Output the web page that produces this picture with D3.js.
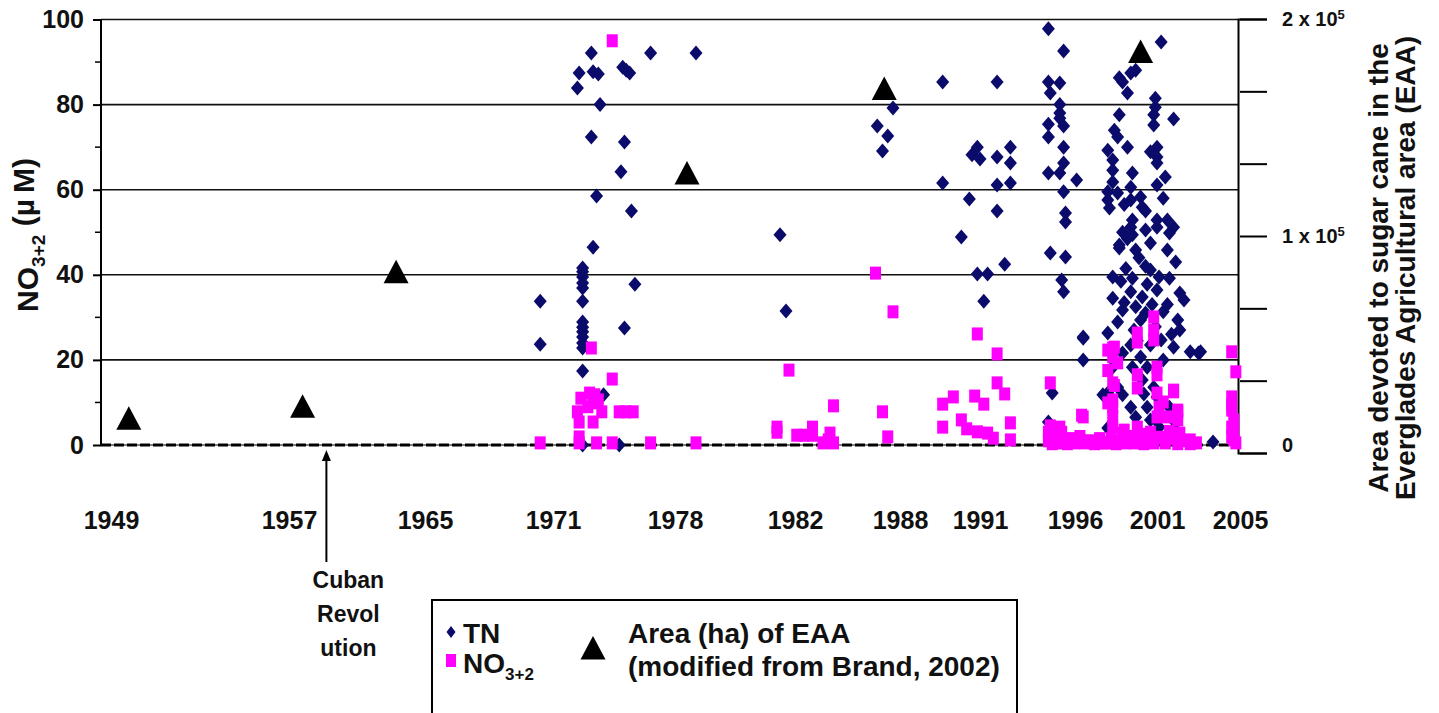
<!DOCTYPE html>
<html lang="en">
<head>
  <meta charset="UTF-8">
  <title>TN, NO3+2 and EAA sugar cane area</title>
  <style>
    body {
      margin: 0;
      background-color: white;
    }

    svg {
      display: block;
      font-family: "Liberation Sans", Arial, sans-serif;
      font-weight: bold;
    }

    .grid line {
      stroke: #111;
      stroke-width: 1.6;
    }

    .axis path,
    .axis line {
      stroke: #000;
      stroke-width: 2;
    }
  </style>
</head>
<body>
  <div id="chart"></div>

  <script src="https://d3js.org/d3.v7.min.js"></script>
  <script>
    // x axis labels (unevenly spaced in the original figure)
    const tickYears = [1949, 1957, 1965, 1971, 1978, 1982, 1988, 1991, 1996, 2001, 2005];
    const leftTicks = [0, 20, 40, 60, 80, 100];
    const leftMinorTicks = [10, 30, 50, 70, 90];
    const areaTicks = [0, 33333, 66667, 100000, 133333, 166667, 200000];

    // Area (ha) of EAA, modified from Brand 2002
    const eaaYears = [1949.8, 1957.8, 1963.3, 1978.4, 1987.1, 2000.0];
    const eaaArea = [16000, 21500, 83500, 129000, 168000, 185000];

    const revolutionYear = 1959.2;

    // TN (uM): [year, value]
    const tnPoints = [
      [1970.4, 33.8], [1970.4, 23.7],
      [1972.7, 41.6], [1972.7, 40.7], [1972.7, 39.5], [1972.7, 38.1], [1972.7, 36.9], [1972.7, 33.8],
      [1972.7, 28.9], [1972.7, 27.7], [1972.7, 26.6], [1972.7, 25.4], [1972.7, 24.0], [1972.7, 22.8],
      [1972.7, 17.4], [1972.7, 0],
      [1973.3, 46.5], [1972.4, 83.9], [1972.5, 87.4], [1973.2, 92.1], [1973.3, 87.7], [1973.6, 87.2],
      [1973.7, 80.0], [1973.2, 72.4], [1973.5, 58.5], [1974.9, 64.2], [1975.5, 55.0], [1975.1, 71.2],
      [1975.2, 88.1], [1975.4, 87.4], [1975.0, 88.8], [1976.6, 92.1], [1978.7, 92.1], [1975.7, 37.8],
      [1975.1, 27.5], [1973.9, 11.8], [1974.8, 0],
      [1981.5, 49.4], [1981.7, 31.5],
      [1987.6, 79.2], [1986.7, 75.0], [1987.3, 72.6], [1987.0, 69.1],
      [1989.6, 85.3], [1989.6, 61.6], [1991.9, 85.3], [1990.9, 70.0], [1990.7, 68.2], [1991.0, 67.2],
      [1990.6, 57.8], [1991.9, 67.7], [1992.6, 70.0], [1992.6, 66.3], [1991.9, 61.1], [1992.6, 61.6],
      [1991.9, 55.0], [1990.3, 48.9], [1992.3, 42.5], [1990.9, 40.2], [1991.4, 40.2], [1991.2, 33.8],
      [1994.6, 97.8], [1995.4, 92.6], [1994.6, 85.3], [1995.2, 85.1], [1994.7, 82.7], [1995.2, 80.0],
      [1995.2, 78.0], [1995.2, 76.8], [1994.6, 75.4], [1995.4, 75.0], [1994.6, 72.4], [1995.4, 70.0],
      [1995.4, 66.3], [1994.6, 63.9], [1995.2, 63.9], [1996.1, 62.3], [1995.4, 59.5], [1995.5, 54.5],
      [1995.5, 52.4], [1994.7, 45.1], [1995.5, 44.2], [1995.3, 38.8], [1995.4, 36.0], [1996.5, 25.4],
      [1996.5, 20.0], [1994.8, 12.2], [1994.6, 5.4],
      [2001.2, 94.7], [1998.7, 86.3], [1998.9, 85.3], [1999.4, 87.4], [1999.7, 88.1], [1999.2, 82.7],
      [2000.9, 81.5], [2000.9, 79.4], [1998.7, 77.6], [2000.8, 77.6], [2001.8, 76.6], [2000.8, 75.2],
      [1998.4, 74.0], [1998.6, 72.4], [1999.2, 70.0], [1998.0, 69.3], [2001.0, 70.0], [2000.6, 68.9],
      [2001.0, 67.7], [1998.3, 67.0], [2001.0, 66.3], [1998.3, 64.6], [1999.5, 63.9], [1998.3, 61.8],
      [2001.0, 61.1], [1998.0, 59.5], [1999.4, 60.6], [1998.6, 59.2], [1998.0, 57.6], [1999.4, 57.6],
      [2000.0, 58.3], [1998.1, 55.7], [2000.1, 55.9], [1999.5, 52.9], [2001.0, 52.9], [2001.5, 52.9],
      [2001.8, 51.2], [1999.4, 51.2], [2001.0, 51.2], [2001.6, 49.8], [1998.7, 46.3], [1999.7, 45.8],
      [2001.5, 45.8], [2001.9, 43.0], [2000.6, 41.1], [1999.5, 39.2], [2001.1, 39.5], [2001.6, 39.2],
      [1998.3, 34.5], [1999.4, 36.0], [2000.1, 34.8], [2001.0, 36.4], [2002.1, 35.7], [2002.3, 34.1],
      [1998.9, 31.7], [2000.0, 29.4], [1998.6, 28.9], [2001.3, 31.3], [2002.0, 29.4], [2002.1, 27.0],
      [1998.0, 26.3], [1996.5, 25.1], [2001.2, 24.7], [2002.6, 21.9], [2003.0, 21.6], [1999.4, 23.5],
      [1998.9, 21.6], [2000.0, 20.7], [1998.3, 18.3], [1999.5, 18.3], [2000.4, 18.3], [2001.3, 20.0],
      [2000.1, 15.3], [1998.6, 13.6], [2000.8, 13.6], [1998.0, 12.2], [1998.9, 11.8], [1999.4, 8.9],
      [2001.0, 11.3], [2000.4, 8.9], [2001.6, 8.9], [2000.6, 5.9], [1998.0, 4.0], [2001.1, 4.2],
      [2001.9, 5.2], [2003.7, 0.7], [2000.8, 2.8], [1997.7, 11.8], [1998.7, 47.0], [1999.5, 49.4],
      [2003.1, 21.9], [1998.9, 50.0], [1999.2, 48.5], [2000.3, 50.5], [2000.6, 47.5], [1999.9, 44.0],
      [2000.3, 42.0], [1999.1, 41.5], [1998.8, 38.5], [2000.4, 37.8], [2000.7, 33.0], [1999.7, 32.5],
      [1999.0, 33.5], [2000.3, 31.0], [2001.5, 33.0], [2000.9, 27.8], [1999.6, 27.0], [2001.7, 26.0],
      [1999.8, 24.5], [2000.6, 23.5], [2001.8, 23.0], [2000.2, 12.0], [1999.7, 6.5], [2000.9, 6.0],
      [1998.3, 39.5], [2001.3, 58.0], [2000.3, 55.0], [1999.0, 56.5], [2001.4, 63.0]
    ];

    // NO3+2 (uM): [year, value]
    const no3Points = [
      [1970.4, 0.5],
      [1974.4, 95.0], [1973.2, 22.8], [1974.4, 15.5], [1973.1, 12.2], [1973.4, 11.8], [1973.6, 10.6],
      [1973.3, 9.9], [1973.8, 7.8], [1972.4, 7.8], [1972.5, 5.4], [1973.3, 5.4], [1974.8, 7.8],
      [1975.2, 7.8], [1975.6, 7.8], [1972.5, 1.9], [1972.5, 0.5], [1973.5, 0.5], [1974.4, 0.5],
      [1976.6, 0.5], [1978.7, 0.5], [1972.6, 11.0], [1973.0, 9.0],
      [1981.8, 17.6], [1981.4, 4.2], [1981.4, 3.0], [1982.1, 2.3], [1982.5, 2.3], [1983.0, 4.2],
      [1983.0, 2.3], [1984.0, 2.8], [1983.6, 0.5], [1984.2, 0.5], [1984.2, 9.2], [1983.9, 1.2],
      [1986.6, 40.4], [1987.6, 31.3], [1987.0, 7.8], [1987.3, 1.9],
      [1990.9, 26.1], [1991.9, 21.4], [1991.9, 14.6], [1992.3, 12.0], [1990.8, 11.5], [1991.2, 9.6],
      [1990.3, 5.9], [1990.5, 3.8], [1990.9, 3.1], [1991.4, 2.8], [1991.7, 1.6], [1992.6, 5.2],
      [1992.6, 1.2], [1989.6, 9.6], [1990.0, 11.3], [1989.6, 4.2],
      [1994.7, 14.6], [1996.4, 7.0], [1995.2, 4.2], [1994.6, 3.0], [1994.6, 1.0], [1994.8, 0.3],
      [1995.0, 2.0], [1995.1, 0.5], [1995.3, 3.0], [1995.4, 1.0], [1995.6, 0.3], [1995.8, 1.5],
      [1996.0, 0.5], [1996.3, 2.0], [1996.6, 0.5], [1996.9, 1.0], [1997.2, 0.3], [1997.5, 1.5],
      [1997.7, 0.5], [1994.7, 4.5], [1995.2, 2.5],
      [2000.8, 30.1], [2000.8, 27.0], [2000.8, 24.7], [1999.8, 26.3], [1999.8, 24.2], [1998.3, 22.8],
      [1998.3, 20.7], [1998.6, 19.3], [1999.8, 16.5], [2001.0, 18.3], [2001.0, 16.5], [1998.3, 14.6],
      [1999.8, 13.4], [2001.8, 12.9], [2001.0, 12.2], [1998.3, 10.6], [2001.3, 10.1], [2001.1, 8.9],
      [2002.0, 8.2], [1998.3, 8.9], [1998.3, 6.6], [1996.5, 6.6], [1998.3, 4.2], [2001.0, 6.6],
      [2001.5, 6.6], [2002.0, 5.9], [1998.9, 2.8], [1999.8, 4.2], [2002.1, 2.8], [2002.6, 1.2],
      [1998.0, 22.3], [1998.4, 23.0], [1998.0, 17.5], [1998.4, 14.0], [1998.0, 9.9], [2001.8, 12.5],
      [2002.0, 7.8],
      [1997.9, 0.5], [1998.2, 1.5], [1998.5, 0.3], [1998.8, 1.0], [1999.1, 0.5], [1999.3, 2.0],
      [1999.6, 0.5], [1999.9, 1.5], [2000.2, 0.3], [2000.5, 1.2], [2000.8, 0.5], [2001.1, 1.8],
      [2001.4, 0.5], [2001.7, 1.5], [2002.0, 0.3], [2002.3, 1.0], [2002.6, 0.3], [2002.9, 0.5],
      [1999.0, 3.5], [2000.0, 2.5], [2000.6, 3.0], [2001.6, 3.2],
      [2004.6, 21.9], [2004.8, 17.2], [2004.6, 11.3], [2004.6, 9.4], [2004.6, 8.2], [2004.7, 5.9],
      [2004.6, 4.2], [2004.7, 3.5], [2004.6, 1.9], [2004.7, 1.2], [2004.8, 0.5]
    ];

    const width = 1439;
    const height = 713;
    const plotLeft = 101;
    const plotRight = 1238;
    const fontFamily = '"Liberation Sans", Arial, sans-serif';

    const svg = d3.select('#chart')
      .append('svg')
      .attr('width', width)
      .attr('height', height);

    // piecewise scale, one segment between each pair of labelled years
    const x = d3.scaleLinear()
      .domain(tickYears)
      .range([111, 289, 425, 553, 675, 795, 900, 980, 1075, 1157, 1240]);

    const y = d3.scaleLinear().domain([0, 100]).range([445, 19.5]);
    const yArea = d3.scaleLinear().domain([0, 200000]).range([453, 19]);

    // gridlines
    svg.append('g')
      .attr('class', 'grid')
      .selectAll('line')
      .data(leftTicks.filter(d => d > 0))
      .enter()
      .append('line')
      .attr('x1', plotLeft)
      .attr('x2', plotRight)
      .attr('y1', d => y(d))
      .attr('y2', d => y(d));

    // dashed zero line
    svg.append('line')
      .attr('x1', plotLeft).attr('x2', plotRight)
      .attr('y1', y(0)).attr('y2', y(0))
      .attr('stroke', '#000').attr('stroke-width', 1.2);
    svg.append('line')
      .attr('x1', plotLeft).attr('x2', plotRight)
      .attr('y1', y(0)).attr('y2', y(0))
      .attr('stroke', '#000').attr('stroke-width', 3)
      .attr('stroke-dasharray', '10,3');

    // left axis
    const yAxis = d3.axisLeft(y)
      .tickValues(leftTicks)
      .tickSize(8)
      .tickPadding(9)
      .tickFormat(d3.format('d'));

    svg.append('g')
      .attr('class', 'axis')
      .attr('transform', `translate(${plotLeft},0)`)
      .call(yAxis)
      .call(g => g.select('.domain').attr('d', `M0,${y(100)}V${y(0)}`))
      .selectAll('text')
      .attr('font-size', 25)
      .attr('font-family', fontFamily)
      .attr('font-weight', 'bold')
      .attr('fill', '#111');

    svg.append('g')
      .selectAll('line')
      .data(leftMinorTicks)
      .enter()
      .append('line')
      .attr('x1', plotLeft - 6).attr('x2', plotLeft)
      .attr('y1', d => y(d)).attr('y2', d => y(d))
      .attr('stroke', '#000').attr('stroke-width', 1.5);

    // right axis (area)
    const areaAxis = d3.axisRight(yArea)
      .tickValues(areaTicks)
      .tickSize(29)
      .tickPadding(15);

    const rightG = svg.append('g')
      .attr('class', 'axis')
      .attr('transform', `translate(${plotRight},0)`)
      .call(areaAxis);

    rightG.selectAll('.tick line').attr('x1', 2);

    rightG.selectAll('text')
      .attr('font-size', 20)
      .attr('font-family', fontFamily)
      .attr('font-weight', 'bold')
      .attr('fill', '#111')
      .each(function(d) {
        const t = d3.select(this).text(null);
        if (d === 0) {
          t.attr('dy', '-0.1em').text('0');
        } else if (d === 100000 || d === 200000) {
          t.append('tspan').text(`${d / 100000} x 10`);
          t.append('tspan').attr('dy', '-0.5em').attr('font-size', 13).text('5');
        }
      });

    // x axis labels
    const xAxis = d3.axisBottom(x)
      .tickValues(tickYears)
      .tickSize(0)
      .tickPadding(0)
      .tickFormat(d3.format('d'));

    svg.append('g')
      .attr('transform', 'translate(0,511)')
      .call(xAxis)
      .call(g => g.select('.domain').remove())
      .selectAll('text')
      .attr('font-size', 25)
      .attr('font-family', fontFamily)
      .attr('font-weight', 'bold')
      .attr('fill', '#111');

    // axis titles
    const yTitle = svg.append('text')
      .attr('transform', `translate(38,235) rotate(-90)`)
      .attr('text-anchor', 'middle')
      .attr('font-size', 30)
      .attr('fill', '#111');
    yTitle.append('tspan').text('NO');
    yTitle.append('tspan').attr('font-size', 19).attr('dy', '0.35em').text('3+2');
    yTitle.append('tspan').attr('dy', '-0.35em').text(' (\u00b5\u2009M)');

    const rightTitle = svg.append('g')
      .attr('transform', 'translate(1388,268) rotate(-90)')
      .attr('font-size', 28)
      .attr('text-anchor', 'middle')
      .attr('fill', '#111');
    rightTitle.append('text').attr('y', 0).text('Area devoted to sugar cane in the');
    rightTitle.append('text').attr('y', 27).text('Everglades Agricultural area (EAA)');

    // data
    const diamond = 'M0,-7.5L6.5,0L0,7.5L-6.5,0Z';
    const triangle = 'M0,-12L12.5,11.5L-12.5,11.5Z';

    svg.append('g')
      .selectAll('path')
      .data(tnPoints)
      .enter()
      .append('path')
      .attr('d', diamond)
      .attr('transform', d => `translate(${x(d[0])},${y(d[1])})`)
      .attr('fill', '#0b0b6b');

    svg.append('g')
      .selectAll('rect')
      .data(no3Points)
      .enter()
      .append('rect')
      .attr('x', d => x(d[0]) - 5.5)
      .attr('y', d => y(d[1]) - 6.5)
      .attr('width', 11)
      .attr('height', 13)
      .attr('fill', '#ff00ff');

    svg.append('g')
      .selectAll('path')
      .data(eaaYears.map((yr, i) => [yr, eaaArea[i]]))
      .enter()
      .append('path')
      .attr('d', triangle)
      .attr('transform', d => `translate(${x(d[0])},${yArea(d[1])})`)
      .attr('fill', '#000');

    // Cuban revolution arrow
    const rx = x(revolutionYear);
    svg.append('line')
      .attr('x1', rx).attr('x2', rx)
      .attr('y1', y(0) + 12).attr('y2', 562)
      .attr('stroke', '#000').attr('stroke-width', 2);
    svg.append('path')
      .attr('d', `M${rx},${y(0) + 5}L${rx + 4.5},${y(0) + 16}L${rx - 4.5},${y(0) + 16}Z`)
      .attr('fill', '#000');

    svg.append('g')
      .attr('font-size', 23)
      .attr('text-anchor', 'middle')
      .attr('fill', '#111')
      .selectAll('text')
      .data(['Cuban', 'Revol', 'ution'])
      .enter()
      .append('text')
      .attr('x', rx + 22)
      .attr('y', (d, i) => 588 + i * 34)
      .text(d => d);

    // legend
    const legend = svg.append('g').attr('fill', '#111');
    legend.append('rect')
      .attr('x', 432).attr('y', 600)
      .attr('width', 585).attr('height', 130)
      .attr('fill', 'none')
      .attr('stroke', '#000')
      .attr('stroke-width', 2);

    legend.append('path')
      .attr('d', 'M0,-6L4.5,0L0,6L-4.5,0Z')
      .attr('transform', 'translate(451,632)')
      .attr('fill', '#0b0b6b');
    legend.append('text').attr('x', 463).attr('y', 643).attr('font-size', 28).text('TN');

    legend.append('rect')
      .attr('x', 446).attr('y', 654)
      .attr('width', 10).attr('height', 13)
      .attr('fill', '#ff00ff');
    const no3Label = legend.append('text').attr('x', 463).attr('y', 673).attr('font-size', 28);
    no3Label.append('tspan').text('NO');
    no3Label.append('tspan').attr('font-size', 17).attr('dy', '0.4em').text('3+2');

    legend.append('path')
      .attr('d', triangle)
      .attr('transform', 'translate(593,648)')
      .attr('fill', '#000');
    legend.append('text').attr('x', 628).attr('y', 643).attr('font-size', 28).text('Area (ha) of EAA');
    legend.append('text').attr('x', 628).attr('y', 676).attr('font-size', 28).text('(modified from Brand, 2002)');
  </script>
</body>
</html>
